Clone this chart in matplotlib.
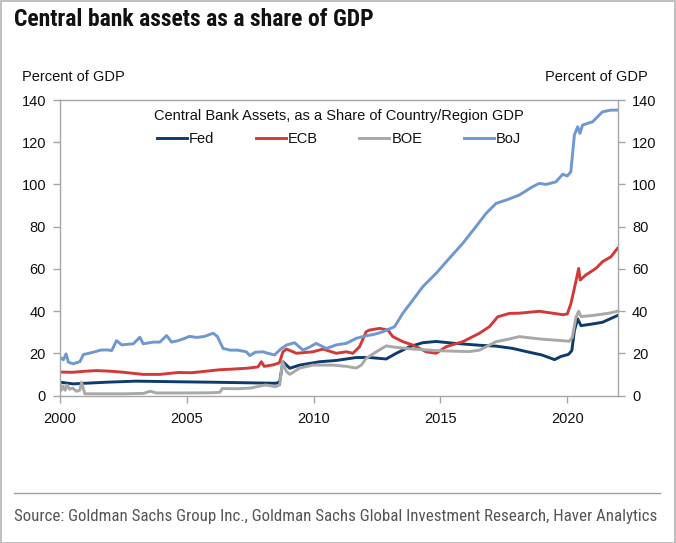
import matplotlib
matplotlib.use("Agg")
import matplotlib.pyplot as plt
from matplotlib import font_manager
from matplotlib.lines import Line2D
from matplotlib.patches import Rectangle

# ---------------- data ----------------
boj_years = [2000.00, 2000.13, 2000.24, 2000.33, 2000.52, 2000.79, 2000.92, 2001.31, 2001.60, 2001.84,
             2002.04, 2002.23, 2002.43, 2002.89, 2003.15, 2003.28, 2003.68, 2003.94, 2004.20, 2004.40,
             2004.66, 2004.90, 2005.10, 2005.40, 2005.70, 2006.04, 2006.20, 2006.43, 2006.70, 2007.00,
             2007.35, 2007.48, 2007.70, 2008.00, 2008.20, 2008.46, 2008.70, 2008.93, 2009.25, 2009.58,
             2009.85, 2010.10, 2010.50, 2010.90, 2011.29, 2011.68, 2012.07, 2012.40, 2012.73, 2013.19,
             2013.52, 2013.91, 2014.30, 2014.83, 2015.35, 2015.88, 2016.40, 2016.80, 2017.19, 2017.59,
             2018.11, 2018.63, 2018.90, 2019.16, 2019.55, 2019.82, 2020.00, 2020.14, 2020.28, 2020.41,
             2020.50, 2020.60, 2021.00, 2021.19, 2021.39, 2021.72, 2021.98]
boj_values = [18.2, 16.9, 19.7, 15.8, 15.0, 16.1, 19.4, 20.5, 21.5, 21.6,
              21.3, 26.0, 24.0, 24.5, 27.6, 24.5, 25.3, 25.3, 28.4, 25.3,
              26.0, 27.0, 28.0, 27.5, 28.0, 29.5, 28.0, 22.3, 21.5, 21.5,
              20.7, 18.9, 20.5, 20.7, 20.0, 19.2, 22.0, 23.9, 25.0, 21.5,
              23.0, 24.7, 22.3, 24.0, 24.7, 27.1, 28.3, 29.0, 30.2, 32.6,
              39.0, 45.2, 51.5, 57.9, 65.0, 72.1, 80.0, 86.3, 91.0, 92.6,
              95.0, 98.9, 100.5, 100.0, 101.2, 104.8, 104.0, 106.0, 123.4, 127.3,
              124.2, 128.1, 129.7, 132.0, 134.4, 135.2, 135.2]

ecb_years = [2000.00, 2000.50, 2001.00, 2001.44, 2002.00, 2002.50, 2003.28, 2003.94, 2004.66, 2005.20,
             2005.60, 2006.30, 2006.80, 2007.35, 2007.80, 2007.94, 2008.05, 2008.40, 2008.65, 2008.79,
             2008.93, 2009.32, 2009.97, 2010.37, 2010.89, 2011.29, 2011.55, 2011.81, 2012.07, 2012.20,
             2012.60, 2012.93, 2013.12, 2013.52, 2013.91, 2014.44, 2014.83, 2015.22, 2015.88, 2016.54,
             2016.93, 2017.26, 2017.72, 2018.11, 2018.90, 2019.30, 2019.82, 2020.00, 2020.14, 2020.28,
             2020.45, 2020.51, 2020.73, 2021.13, 2021.39, 2021.72, 2021.98]
ecb_values = [11.1, 11.0, 11.5, 11.8, 11.5, 11.0, 10.0, 10.0, 10.9, 10.8,
              11.3, 12.2, 12.5, 12.9, 13.5, 16.0, 13.8, 14.5, 15.5, 20.7,
              22.0, 20.0, 20.7, 22.0, 20.0, 20.7, 20.0, 23.1, 30.2, 31.0,
              31.8, 31.0, 27.9, 25.5, 23.9, 20.7, 20.0, 23.1, 25.5, 29.5,
              32.6, 37.3, 38.9, 39.0, 39.9, 39.2, 38.3, 38.6, 43.4, 50.8,
              60.2, 54.7, 57.1, 60.2, 63.4, 65.7, 69.7]

fed_years = [2000.00, 2000.52, 2001.00, 2001.84, 2003.00, 2004.66, 2006.00, 2007.50, 2008.53, 2008.66,
             2008.79, 2009.06, 2009.45, 2010.24, 2010.89, 2011.68, 2012.20, 2012.86, 2013.26, 2013.78,
             2014.30, 2014.83, 2015.48, 2016.54, 2017.19, 2017.85, 2018.50, 2019.00, 2019.50, 2019.75,
             2020.05, 2020.18, 2020.28, 2020.41, 2020.54, 2021.00, 2021.39, 2021.98]
fed_values = [6.3, 5.5, 5.8, 6.3, 6.8, 6.5, 6.3, 6.0, 5.8, 6.5,
              16.0, 12.9, 14.4, 16.0, 16.6, 18.0, 18.0, 17.3, 20.0, 23.1,
              25.0, 25.6, 24.8, 23.8, 23.4, 22.3, 20.5, 19.2, 17.0, 18.5,
              19.5, 21.3, 30.7, 36.3, 33.1, 33.9, 34.7, 37.9]

boe_years = [2000.00, 2000.05, 2000.12, 2000.20, 2000.28, 2000.38, 2000.50, 2000.65, 2000.78, 2000.85,
             2000.98, 2001.50, 2002.50, 2003.30, 2003.55, 2003.80, 2005.00, 2006.00, 2006.30, 2006.40,
             2007.00, 2007.50, 2007.90, 2008.10, 2008.50, 2008.66, 2008.77, 2008.93, 2009.06, 2009.45,
             2009.97, 2010.76, 2011.29, 2011.68, 2011.88, 2012.07, 2012.47, 2012.86, 2013.26, 2013.91,
             2014.83, 2015.50, 2016.14, 2016.54, 2016.93, 2017.19, 2017.72, 2018.11, 2018.90, 2019.55,
             2020.08, 2020.20, 2020.34, 2020.45, 2020.54, 2021.00, 2021.65, 2021.98]
boe_values = [5.5, 2.5, 4.5, 2.5, 5.0, 3.0, 3.5, 2.0, 2.5, 6.3,
              0.8, 0.8, 0.8, 1.0, 2.0, 1.2, 1.2, 1.3, 1.5, 3.3,
              3.2, 3.5, 4.5, 5.0, 4.2, 5.0, 16.0, 11.3, 10.0, 13.0,
              14.4, 14.4, 13.8, 13.0, 14.4, 17.6, 20.7, 23.5, 22.8, 22.0,
              21.3, 21.0, 20.8, 21.5, 23.9, 25.5, 26.8, 27.9, 26.8, 26.2,
              25.7, 27.6, 37.0, 39.9, 37.4, 37.9, 39.0, 39.9]

series_names = ["Fed", "ECB", "BOE", "BoJ"]
x_ticks = [2000, 2005, 2010, 2015, 2020]
y_ticks = [0, 20, 40, 60, 80, 100, 120, 140]

# ---------------- fonts ----------------
names = {f.name for f in font_manager.fontManager.ttflist}
def pick(prefs, default):
    for p in prefs:
        if p in names:
            return p
    return default
narrow = pick(["Roboto Condensed", "Archivo Narrow", "PT Sans Narrow", "Barlow Condensed",
               "Asap Condensed", "Liberation Sans Narrow"], "Liberation Sans")
regular = "Liberation Sans"
FS = 10.5

colors = {"Fed": "#0d3b6b", "ECB": "#d23a3a", "BOE": "#a8a8a8", "BoJ": "#7098d0"}

W, H = 676, 543
fig = plt.figure(figsize=(W / 100, H / 100), dpi=100)
fig.patch.set_facecolor("white")

ax = fig.add_axes([60 / W, 1 - 395.5 / H, (618 - 60) / W, (395.5 - 100) / H])

data = {"Fed": (fed_years, fed_values), "ECB": (ecb_years, ecb_values),
        "BOE": (boe_years, boe_values), "BoJ": (boj_years, boj_values)}
for name in series_names:
    xs, ys = data[name]
    ax.plot(xs, ys, color=colors[name], lw=2.1, label=name, solid_joinstyle="round")

ax.set_xlim(2000, 2022)
ax.set_ylim(0, 140)
ax.set_xticks(x_ticks)
ax.set_xticklabels([str(t) for t in x_ticks])
ax.set_yticks(y_ticks)
ax.set_yticklabels([str(t) for t in y_ticks])

for s in ax.spines.values():
    s.set_color("#a6a6a6")
    s.set_linewidth(1.0)

ax.tick_params(axis="both", which="both", direction="out", length=5, width=1,
               color="#a6a6a6", labelsize=FS, labelcolor="#111111")
ax.tick_params(axis="y", left=True, right=True, labelleft=True, labelright=True, pad=5)
ax.tick_params(axis="x", pad=7)
for lab in ax.get_xticklabels() + ax.get_yticklabels():
    lab.set_fontfamily(regular)

ax.text(0.5, 0.946, "Central Bank Assets, as a Share of Country/Region GDP",
        transform=ax.transAxes, ha="center", va="center", fontsize=FS,
        family=regular, color="#111111")

leg = ax.legend(loc="center", bbox_to_anchor=(0.5, 0.868), ncol=4, frameon=False,
                handlelength=2.05, handletextpad=0.15, columnspacing=2.85,
                prop={"family": regular, "size": FS})
for t in leg.get_texts():
    t.set_color("#111111")

# Titles / labels
fig.text(14 / W, 1 - 20 / H, "Central bank assets as a share of GDP", ha="left", va="center",
         fontsize=17, fontweight="bold", family=narrow, color="#111111")
fig.text(22 / W, 1 - 77 / H, "Percent of GDP", ha="left", va="center", fontsize=FS,
         family=regular, color="#111111")
fig.text(648 / W, 1 - 77 / H, "Percent of GDP", ha="right", va="center", fontsize=FS,
         family=regular, color="#111111")

fig.add_artist(Line2D([14 / W, 660 / W], [1 - 493 / H, 1 - 493 / H], color="#a0a0a0", lw=1.0))
fig.text(14 / W, 1 - 516 / H,
         "Source: Goldman Sachs Group Inc., Goldman Sachs Global Investment Research, Haver Analytics",
         ha="left", va="center", fontsize=12.2, family=narrow, color="#555555")

fig.add_artist(Rectangle((0.5 / W, 0.5 / H), 1 - 1.5 / W, 1 - 1.5 / H, transform=fig.transFigure,
                         fill=False, edgecolor="#b5b5b5", lw=1.2))

fig.savefig("out.png", dpi=100, facecolor="white")
